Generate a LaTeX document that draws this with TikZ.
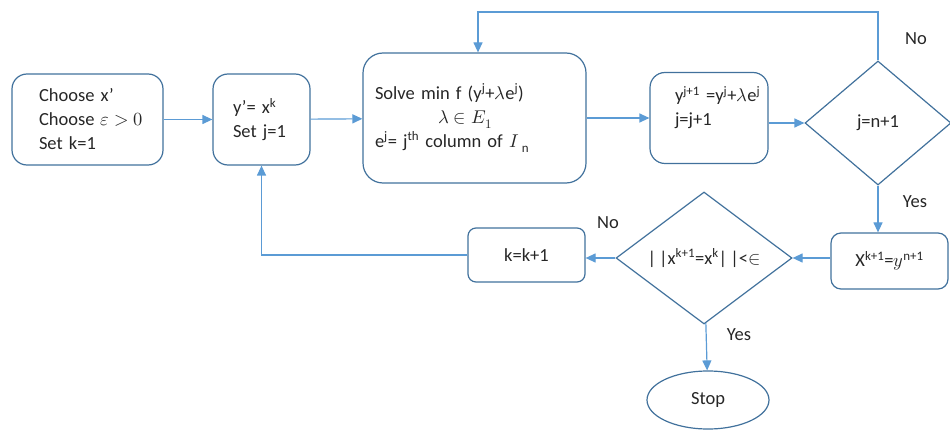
\documentclass[tikz,border=0pt]{standalone}
\usepackage{amssymb,amsmath}
\usepackage{fontspec}
\usepackage{unicode-math}
\setmainfont{Carlito}
\setmathfont{Latin Modern Math}
\usetikzlibrary{shapes.geometric,arrows.meta}

\definecolor{linkblue}{RGB}{91,155,213}
\definecolor{edgeblue}{RGB}{65,113,156}
\definecolor{inktext}{RGB}{38,38,38}

\tikzset{
    box/.style={shape=rectangle, rounded corners=15pt, draw=edgeblue, line width=1.2pt, text=inktext, align=left},
    test/.style={shape=diamond, draw=edgeblue, line width=1.2pt, inner sep=0pt, text=inktext},
    flow/.style={draw=linkblue, line width=1.2pt, -{Triangle[length=10pt,width=9pt]}},
    tag/.style={text=inktext},
}

\begin{document}
\begin{tikzpicture}[x=1pt, y=-1pt, font=\fontsize{18.5}{24}\selectfont]
    \useasboundingbox (0,0) rectangle (950,430);
    \node[box, minimum width=151pt, minimum height=91pt, inner xsep=27pt, text width=97pt] at (87.5,119.5) (Start) {Choose x’\\ \mbox{Choose $\varepsilon > 0$}\\ Set k=1};
    \node[box, minimum width=97pt, minimum height=91pt, inner xsep=20pt, text width=57pt] at (261.5,119.5) (SetJ) {y’= x\textsuperscript{k}\\ Set j=1};
    \node[box, rounded corners=20pt, minimum width=223pt, minimum height=130pt, inner xsep=12pt, text width=199pt] at (474.5,118) (Solve) {Solve min f (y\textsuperscript{j}+$\lambda$e\textsuperscript{j})\\ \hspace*{63pt}$\lambda \in E_1$\\ e\textsuperscript{j}= j\textsuperscript{th} column of $I$\,\textsubscript{n}};
    \node[box, minimum width=118pt, minimum height=91pt, inner xsep=25pt, text width=68pt] at (709,118) (Update) {\mbox{y\textsuperscript{j+1} =y\textsuperscript{j}+$\lambda$e\textsuperscript{j}}\\ j=j+1\\ \mbox{}};
    \node[test, minimum width=146pt, minimum height=124pt] at (878,123) (Check) {j=n+1};
    \node[box, rounded corners=10pt, minimum width=117pt, minimum height=56pt] at (889.5,261) (NewX) {X\textsuperscript{k+1}=$y$\textsuperscript{n+1}};
    \node[test, minimum width=176pt, minimum height=132pt] at (704,258) (Conv) {|\,|x\textsuperscript{k+1}=x\textsuperscript{k}|\,|<$\in$};
    \node[box, rounded corners=8pt, minimum width=117pt, minimum height=54pt] at (526.5,255) (Bump) {k=k+1};
    \node[shape=ellipse, draw=edgeblue, line width=1.2pt, inner sep=0pt, text=inktext, minimum width=122pt, minimum height=58pt] at (708,400) (Stop) {Stop};
    \coordinate (back) at (478,12);

    \draw [flow] (Start) -- (SetJ);
    \draw [flow] (SetJ) -- (Solve);
    \draw [flow] (Solve) -- (Update);
    \draw [flow] (Update.east |- Check) -- (Check.west);
    \draw [flow] (Check.north) |- (back) -- (back |- Solve.north);
    \draw [flow] (Check.south) -- (Check.south |- NewX.north);
    \draw [flow] (NewX.west |- Conv) -- (Conv.east);
    \draw [flow] (Conv.west) -- (Conv.west -| Bump.east);
    \draw [flow] (Bump.west) -| (SetJ.south);
    \draw [flow] (Conv) -- (Stop);

    \node[tag] at (916,39) (NoTop) {No};
    \node[tag] at (915,202) (YesTop) {Yes};
    \node[tag] at (608,223) (NoLow) {No};
    \node[tag] at (739,335) (YesLow) {Yes};
\end{tikzpicture}
\end{document}
